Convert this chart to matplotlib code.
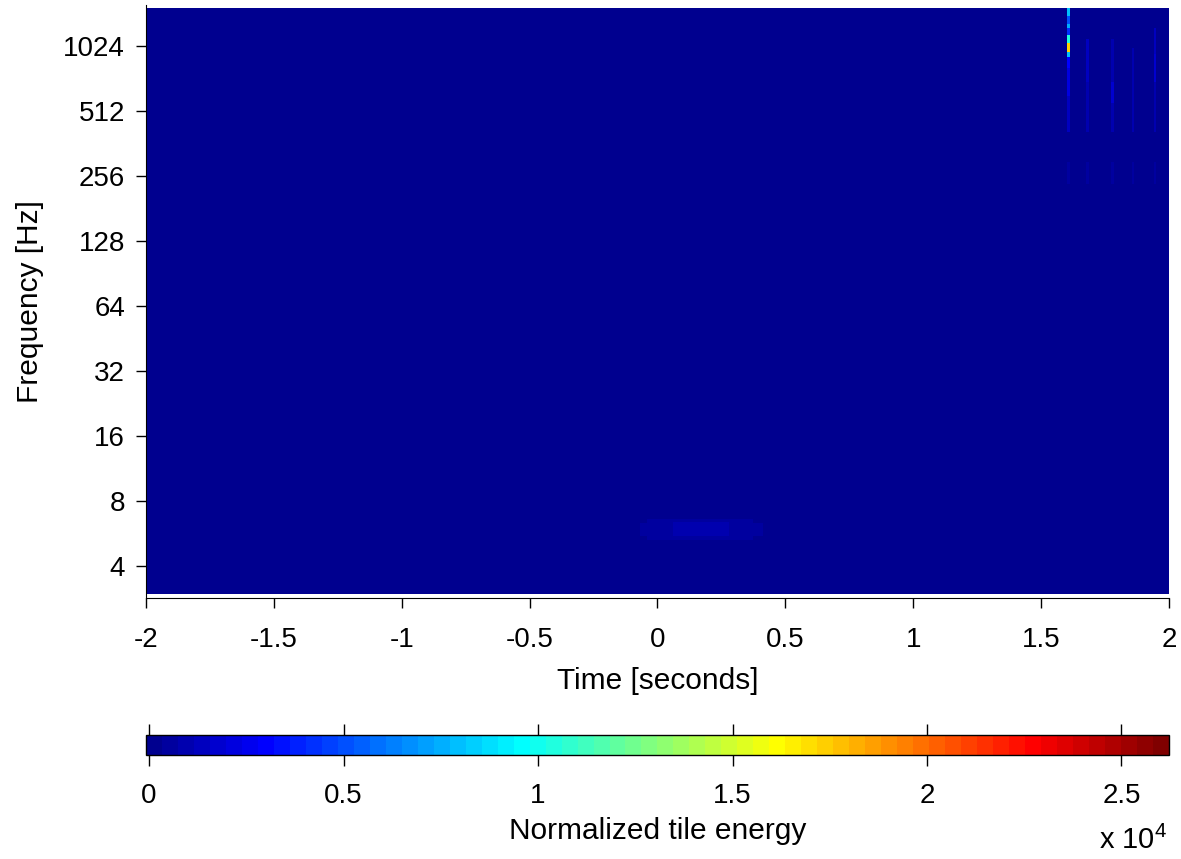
import numpy as np
import matplotlib
matplotlib.use("Agg")
import matplotlib.pyplot as plt
from matplotlib.colors import ListedColormap, Normalize

plt.rcParams['font.family'] = ['Liberation Sans', 'DejaVu Sans']
plt.rcParams['mathtext.fontset'] = 'custom'
plt.rcParams['mathtext.rm'] = 'Liberation Sans'

# time / frequency range of the map
t_range = [-2.0, 2.0]
f_range = [2.97, 1536.0]

# tiles above the noise floor: start, end [s], low, high [Hz], energy
tile_t0 = [-0.07, -0.04, 0.06,
           1.600, 1.600, 1.600, 1.600, 1.600, 1.600, 1.600, 1.600, 1.600, 1.600, 1.600,
           1.678, 1.678, 1.678,
           1.774, 1.774, 1.774,
           1.855, 1.855, 1.855,
           1.940, 1.940, 1.940, 1.940]
tile_t1 = [0.41, 0.37, 0.28,
           1.612, 1.612, 1.612, 1.612, 1.612, 1.612, 1.612, 1.612, 1.612, 1.612, 1.612,
           1.688, 1.688, 1.688,
           1.784, 1.784, 1.784,
           1.864, 1.864, 1.864,
           1.950, 1.950, 1.950, 1.950]
tile_f0 = [5.45, 5.25, 5.45,
           1420, 1300, 1240, 1140, 1050, 960, 900, 810, 600, 410, 235,
           700, 410, 235,
           560, 410, 235,
           600, 410, 235,
           950, 700, 410, 235]
tile_f1 = [6.3, 6.55, 6.35,
           1536, 1420, 1300, 1240, 1140, 1050, 960, 900, 810, 600, 300,
           1100, 700, 300,
           700, 1100, 300,
           1000, 600, 300,
           1250, 950, 700, 300]
tile_e = [600, 450, 1000,
          8000, 5000, 7500, 4200, 10500, 17500, 8000, 3200, 2000, 1400, 600,
          1300, 900, 500,
          1700, 1000, 500,
          1100, 800, 450,
          1500, 1800, 1100, 500]

clim = [-80, 26220]
cbar_ticks = [0, 5000, 10000, 15000, 20000, 25000]
cbar_labels = ['0', '0.5', '1', '1.5', '2', '2.5']
x_ticks = [-2, -1.5, -1, -0.5, 0, 0.5, 1, 1.5, 2]
y_ticks = [4, 8, 16, 32, 64, 128, 256, 512, 1024]

# MATLAB style jet(64)
n = 16
u = np.concatenate([np.arange(1, n + 1) / n, np.ones(n - 1), np.arange(n, 0, -1) / n])
g = n // 2 + np.arange(1, len(u) + 1)
rgb = np.zeros((64, 3))
for ch, idx in enumerate([g + n, g, g - n]):
    ok = (idx >= 1) & (idx <= 64)
    rgb[idx[ok] - 1, ch] = u[ok]
cmap = ListedColormap(rgb)
norm = Normalize(vmin=clim[0], vmax=clim[1])

t_edges = np.linspace(t_range[0], t_range[1], 1001)
f_edges = np.geomspace(f_range[0], f_range[1], 451)
tc = 0.5 * (t_edges[:-1] + t_edges[1:])
fc = np.sqrt(f_edges[:-1] * f_edges[1:])
Z = np.zeros((len(fc), len(tc)))
for t0, t1, f0, f1, e in zip(tile_t0, tile_t1, tile_f0, tile_f1, tile_e):
    rows = (fc >= f0) & (fc < f1)
    cols = (tc >= t0) & (tc < t1)
    sub = np.ix_(rows, cols)
    Z[sub] = np.maximum(Z[sub], e)

fig = plt.figure(figsize=(11.81, 8.59), dpi=100)
ax = fig.add_axes([0.1236, 0.304, 0.8662, 0.690])
pcm = ax.pcolormesh(t_edges, f_edges, Z, cmap=cmap, norm=norm, shading='flat', rasterized=True)
ax.set_yscale('log')
ax.set_xlim(-2, 2)
ax.set_ylim(2.84, 1583)
ax.set_yticks(y_ticks)
ax.set_yticklabels([str(v) for v in y_ticks])
ax.minorticks_off()
ax.set_xticks(x_ticks)
ax.set_xticklabels(['%g' % v for v in x_ticks])
ax.spines['top'].set_visible(False)
ax.spines['right'].set_visible(False)
ax.tick_params(labelsize=20, length=7, width=1, pad=8)
ax.tick_params(axis='x', pad=14)
ax.set_xlabel('Time [seconds]', fontsize=21.5, labelpad=10)
ax.set_ylabel('Frequency [Hz]', fontsize=21.5, labelpad=14)

cax = fig.add_axes([0.1236, 0.1211, 0.8662, 0.0233])
cb = fig.colorbar(pcm, cax=cax, orientation='horizontal', ticks=cbar_ticks)
cb.ax.set_xticklabels(cbar_labels)
cb.outline.set_linewidth(1)
cax.xaxis.set_ticks_position('both')
cax.tick_params(axis='x', which='major', direction='out', length=8, width=1,
                labelsize=20, labeltop=False, pad=12, colors='black')
cax.tick_params(axis='x', which='minor', length=0)
cax.set_xlabel('Normalized tile energy', fontsize=21.5, labelpad=6)
fig.text(0.988, 0.005, r'x 10$^4$', ha='right', va='bottom', fontsize=21)

fig.savefig('out.png', dpi=100)
